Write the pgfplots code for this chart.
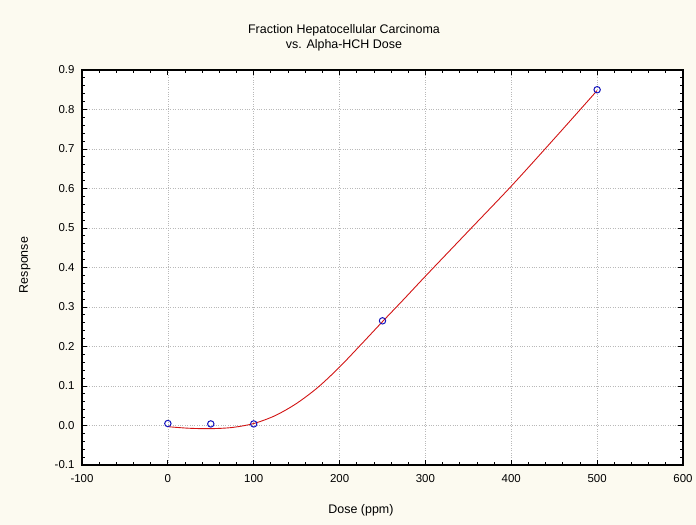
\documentclass[border=0pt]{standalone}
\usepackage{pgfplots}
\pgfplotsset{compat=1.18}
\usepackage{fontspec}
\setmainfont{Liberation Sans}
\definecolor{bgcream}{RGB}{252,250,240}
\definecolor{fitred}{RGB}{210,20,20}
\definecolor{ptblue}{RGB}{20,20,190}
\begin{document}
\begin{tikzpicture}[x=1bp,y=1bp]
\path[use as bounding box, fill=bgcream] (-82,-60) rectangle (614,465);
\begin{axis}[
    at={(0,0)}, anchor=south west,
    scale only axis,
    width=601bp, height=395bp,
    xmin=-100, xmax=600,
    ymin=-0.1, ymax=0.9,
    xtick={-100,0,100,200,300,400,500,600},
    ytick={-0.1,0,0.1,0.2,0.3,0.4,0.5,0.6,0.7,0.8,0.9},
    minor x tick num=4,
    minor y tick num=4,
    tick align=inside,
    major tick length=5bp,
    minor tick length=3bp,
    axis line style={line width=1.3pt},
    every tick/.style={black, line width=0.8pt},
    grid=major,
    grid style={gray!55, dotted, line width=0.7pt},
    axis background/.style={fill=white},
    /pgf/number format/assume math mode=true,
    yticklabel style={/pgf/number format/fixed, /pgf/number format/fixed zerofill, /pgf/number format/precision=1, xshift=-4bp},
    tick label style={font=\fontsize{11.5}{13}\selectfont},
    xticklabel style={yshift=-6bp},
    scaled y ticks=false,
]
\addplot[fitred, line width=0.9pt, smooth] coordinates {
(0,-0.003) (25,-0.007) (50,-0.008) (75,-0.005) (100,0.005) (125,0.025)
(150,0.056) (175,0.097) (200,0.148) (225,0.205) (250,0.263) (275,0.320)
(300,0.378) (350,0.492) (400,0.606) (450,0.726) (500,0.848)};
\addplot[only marks, mark=o, mark size=3.2bp, ptblue, line width=1pt] coordinates {
(0,0.005) (50,0.004) (100,0.004) (250,0.265) (500,0.850)};
\end{axis}
\node[font=\fontsize{12.5}{15}\selectfont, align=center] at (262,427) {Fraction Hepatocellular Carcinoma\\vs. Alpha-HCH Dose};
\node[font=\fontsize{12.5}{15}\selectfont] at (279,-45) {Dose (ppm)};
\node[font=\fontsize{12.5}{15}\selectfont, rotate=90] at (-57,200) {Response};
\end{tikzpicture}
\end{document}
